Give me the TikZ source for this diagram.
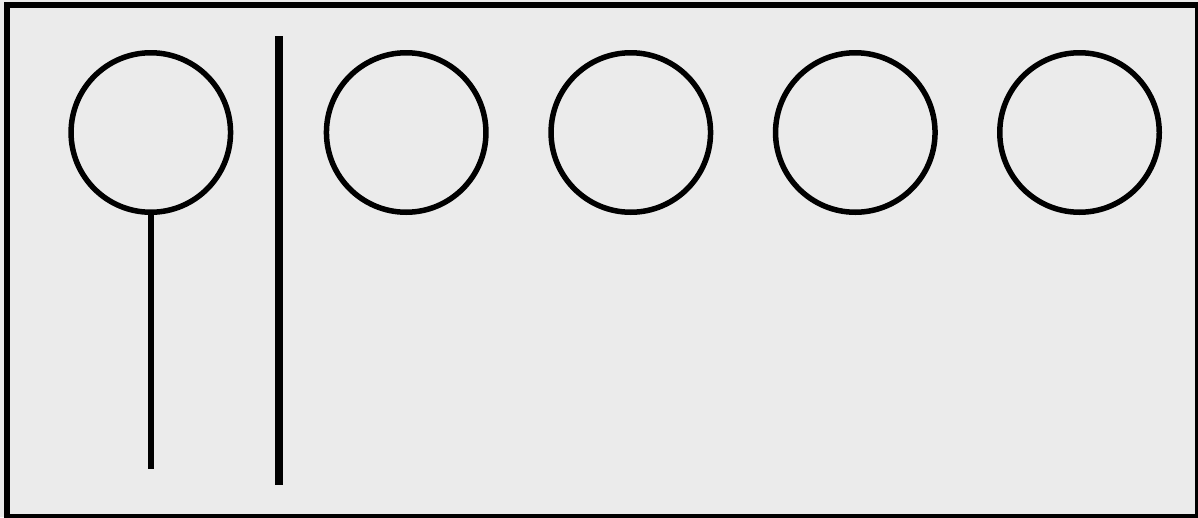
\documentclass[tikz,border=0pt]{standalone}
\definecolor{bggray}{RGB}{235,235,235}
\begin{document}
\begin{tikzpicture}[x=1pt,y=-1pt,
  ring/.style={draw=black,circle,line width=5.5pt,minimum size=159.5pt,inner sep=0pt,outer sep=0pt},
  stick/.style={draw=black,line width=5.7pt},
  bar/.style={draw=black,line width=8.3pt},
  frame/.style={draw=black,line width=6pt}]
\useasboundingbox (0,0) rectangle (1198,517);
\clip (0,0) rectangle (1198,517);
\fill[bggray] (0,0) rectangle (1198,517);
\draw[frame] (6.5,4.5) rectangle (1198,517);
\node[ring] (c1) at (150.8,132.5) {};
\node[ring] (c2) at (406.2,132.5) {};
\node[ring] (c3) at (630.8,132.5) {};
\node[ring] (c4) at (855.3,132.5) {};
\node[ring] (c5) at (1079.5,132.5) {};
\coordinate (s1) at (150.8,468.7);
\draw[stick] (c1.south) -- (s1);
\coordinate (b1) at (279.2,36);
\coordinate (b2) at (279.2,484.7);
\draw[bar] (b1) -- (b2);
\end{tikzpicture}
\end{document}
